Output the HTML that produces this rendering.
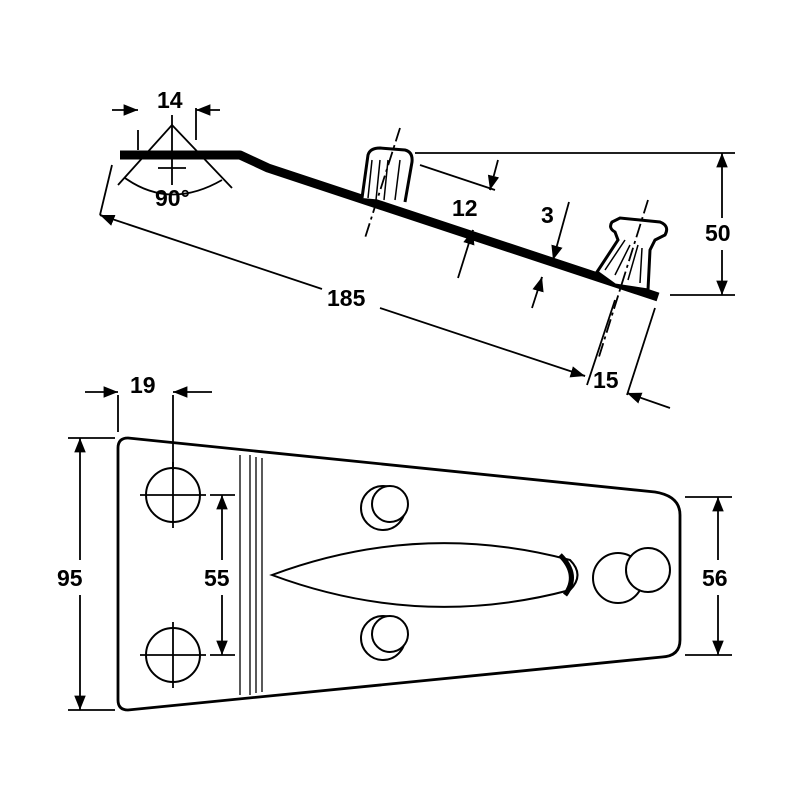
<!DOCTYPE html>
<html><head><meta charset="utf-8"><style>
html,body{margin:0;padding:0;background:#fff}
svg text{font-family:"Liberation Sans",Arial,sans-serif;font-size:23px;font-weight:bold;fill:#000}
</style></head><body>
<svg width="800" height="800" viewBox="0 0 800 800" xmlns="http://www.w3.org/2000/svg">
<defs>
<marker id="a" viewBox="0 0 10 10" refX="10" refY="5" markerWidth="8" markerHeight="8" orient="auto-start-reverse"><path d="M0,1 L10,5 L0,9 z" fill="#000"/></marker>
</defs>
<g stroke="#000" fill="none" stroke-width="1.8">
<!-- side profile bar -->
<path d="M120,155 L240,155 L268,168 L658,297" stroke-width="9" stroke-linejoin="round"/>
<!-- knob 1 -->
<path d="M362,198 L368,155 Q370,148 380,148 L405,150 Q413,152 412,162 L405,202" fill="#fff" stroke-width="3"/>
<path d="M372,160 L368,198 M380,160 L376,200 M388,160 L384,200 M400,160 L395,200" stroke-width="1.5"/>
<!-- knob 2 -->
<path d="M597,272 L618,240 L615,232 Q608,228 612,222 L620,218 L660,222 Q670,226 665,235 L655,240 L650,250 L648,290 L615,285 Z" fill="#fff" stroke-width="3"/>
<path d="M605,270 L625,240 M615,275 L630,245 M628,280 L638,245 M640,283 L642,248" stroke-width="1.5"/>
<!-- centerlines -->
<path d="M400,128 L365,238" stroke-dasharray="14,4,3,4"/>
<path d="M648,200 L598,360" stroke-dasharray="14,4,3,4"/>
<!-- 50 dim -->
<path d="M415,153 L735,153 M670,295 L735,295"/>
<path d="M722,160 L722,218 M722,250 L722,290"/>
<path d="M722,153 L722,160" marker-start="url(#a)"/>
<path d="M722,295 L722,288" marker-start="url(#a)"/>
<!-- 185 dim -->
<path d="M100,215 L322,289 M380,308 L585,376" />
<path d="M110,219 L100,215" marker-end="url(#a)"/>
<path d="M575,373 L585,376" marker-end="url(#a)"/>
<path d="M112,165 L100,215"/>
<path d="M615,300 L587,385"/>
<path d="M655,308 L627,395"/>
<!-- 15 -->
<path d="M670,408 L627,393"/>
<path d="M640,398 L627,393" marker-end="url(#a)"/>
<!-- 12 dim -->
<path d="M420,165 L495,190"/>
<path d="M498,160 L490,190"/>
<path d="M492,182 L490,190" marker-end="url(#a)"/>
<path d="M473,230 L458,278"/>
<path d="M470,240 L473,230" marker-end="url(#a)"/>
<!-- 3 dim -->
<path d="M569,202 L553,260"/>
<path d="M555,253 L553,260" marker-end="url(#a)"/>
<path d="M542,277 L532,308"/>
<path d="M540,284 L542,277" marker-end="url(#a)"/>
<!-- 14 & 90 -->
<path d="M172,115 L172,185 M160,155 L185,155 M158,168 L186,168"/>
<path d="M172,125 L118,185 M172,125 L232,188"/>
<path d="M138,130 L138,150 M196,108 L196,140"/>
<path d="M112,110 L138,110" marker-end="url(#a)"/>
<path d="M220,110 L196,110" marker-end="url(#a)"/>
<path d="M125,178 Q170,210 222,180" />
<!-- bottom plate -->
<path d="M128,438 L655,492 Q680,496 680,515 L680,640 Q680,656 662,657 L128,710 Q118,710 118,700 L118,448 Q118,438 128,438 Z" stroke-width="2.8"/>
<path d="M240,455 L240,695 M250,455 L250,695 M256,457 L256,693 M262,458 L262,692" stroke-width="1.3"/>
<circle cx="173" cy="495" r="27" stroke-width="2"/>
<circle cx="173" cy="655" r="27" stroke-width="2"/>
<path d="M140,495 L206,495 M173,462 L173,528 M140,655 L206,655 M173,622 L173,688"/>
<!-- lens -->
<path d="M272,575 Q420,520 570,560 Q585,575 570,590 Q420,630 272,575 Z" stroke-width="2"/>
<path d="M560,555 Q580,575 565,595" stroke-width="5"/>
<!-- small knobs -->
<circle cx="383" cy="508" r="22" stroke-width="2"/>
<circle cx="390" cy="504" r="18" fill="#fff" stroke-width="2"/>
<circle cx="383" cy="638" r="22" stroke-width="2"/>
<circle cx="390" cy="634" r="18" fill="#fff" stroke-width="2"/>
<circle cx="618" cy="578" r="25" stroke-width="2"/>
<circle cx="648" cy="570" r="22" fill="#fff" stroke-width="2"/>
<!-- 19 dim -->
<path d="M118,395 L118,432 M173,395 L173,470"/>
<path d="M85,392 L118,392" marker-end="url(#a)"/>
<path d="M212,392 L173,392" marker-end="url(#a)"/>
<!-- 95 dim -->
<path d="M68,438 L115,438 M68,710 L115,710"/>
<path d="M80,445 L80,560 M80,595 L80,702"/>
<path d="M80,445 L80,438" marker-end="url(#a)"/>
<path d="M80,702 L80,710" marker-end="url(#a)"/>
<!-- 55 dim -->
<path d="M210,495 L235,495 M210,655 L235,655"/>
<path d="M222,502 L222,560 M222,595 L222,648"/>
<path d="M222,502 L222,495" marker-end="url(#a)"/>
<path d="M222,648 L222,655" marker-end="url(#a)"/>
<!-- 56 dim -->
<path d="M685,497 L732,497 M685,655 L732,655"/>
<path d="M718,505 L718,560 M718,595 L718,648"/>
<path d="M718,505 L718,497" marker-end="url(#a)"/>
<path d="M718,648 L718,655" marker-end="url(#a)"/>
</g>
<text x="157" y="108">14</text>
<text x="155" y="206">90°</text>
<text x="327" y="306">185</text>
<text x="452" y="216">12</text>
<text x="541" y="223">3</text>
<text x="705" y="241">50</text>
<text x="593" y="388">15</text>
<text x="130" y="393">19</text>
<text x="57" y="586">95</text>
<text x="204" y="586">55</text>
<text x="702" y="586">56</text>
</svg>
</body></html>
